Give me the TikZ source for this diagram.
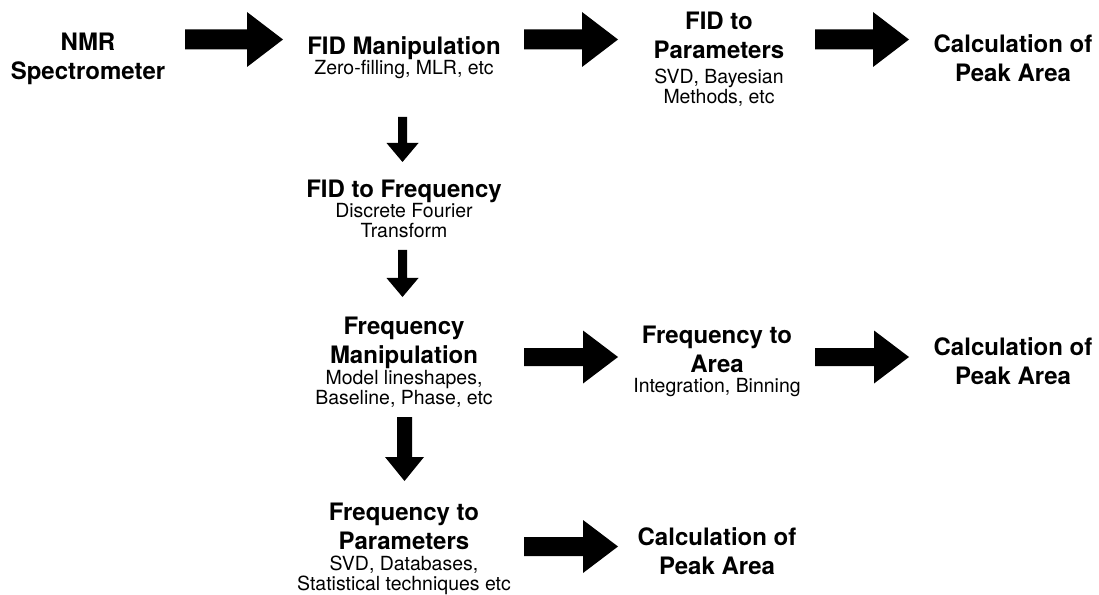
\documentclass[tikz,border=0pt]{standalone}
\usepackage{fontspec}
\setmainfont{TeX Gyre Heros}
\usetikzlibrary{calc}
\tikzset{
  ttl/.style={font=\fontsize{18}{21.75}\selectfont\bfseries, align=center, inner sep=0pt, anchor=north},
  subt/.style={font=\fontsize{14.6}{15}\selectfont, align=center, inner sep=0pt, anchor=north},
  blk/.style={fill=black, draw=none}
}
% horizontal block arrow: tail, tip, body half width, head half width, head length
\newcommand\hblk[5]{\fill[blk] ($(#1)+(0,-#3)$) -- ($(#2)+(-#5,-#3)$) -- ($(#2)+(-#5,-#4)$) -- (#2) -- ($(#2)+(-#5,#4)$) -- ($(#2)+(-#5,#3)$) -- ($(#1)+(0,#3)$) -- cycle;}
% vertical (downward) block arrow
\newcommand\vblk[5]{\fill[blk] ($(#1)+(-#3,0)$) -- ($(#2)+(-#3,-#5)$) -- ($(#2)+(-#4,-#5)$) -- (#2) -- ($(#2)+(#4,-#5)$) -- ($(#2)+(#3,-#5)$) -- ($(#1)+(#3,0)$) -- cycle;}
\begin{document}
\begin{tikzpicture}[x=0.75pt, y=-0.75pt]
\useasboundingbox (0,0) rectangle (1099,595);

% text blocks
\node[ttl] (nmr) at (88,33) {NMR\\Spectrometer};
\node[ttl] (fidm) at (404,36) {FID Manipulation};
\node[subt] (fidms) at (404,60) {Zero-filling, MLR, etc};
\node[ttl] (fidp) at (719,11.5) {FID to\\Parameters};
\node[subt] (fidps) at (719,69) {SVD, Bayesian\\Methods, etc};
\node[ttl] (calc1) at (1013,34) {Calculation of\\Peak Area};
\node[ttl] (fidf) at (404,180) {FID to Frequency};
\node[subt] (fidfs) at (404,203) {Discrete Fourier\\Transform};
\node[ttl] (frm) at (404,317) {Frequency\\Manipulation};
\node[subt] (frms) at (404,370) {Model lineshapes,\\Baseline, Phase, etc};
\node[ttl] (fra) at (717,326) {Frequency to\\Area};
\node[subt] (fras) at (717,378) {Integration, Binning};
\node[ttl] (calc2) at (1013,337) {Calculation of\\Peak Area};
\node[ttl] (frp) at (404,503) {Frequency to\\Parameters};
\node[subt] (frps) at (404,555.5) {SVD, Databases,\\Statistical techniques etc};
\node[ttl] (calc3) at (717,527) {Calculation of\\Peak Area};

% arrow end points
\coordinate (a1s) at (185,39.5);  \coordinate (a1e) at (283,39.5);
\coordinate (a2s) at (524,39.5);  \coordinate (a2e) at (618,39.5);
\coordinate (a3s) at (815,39.5);  \coordinate (a3e) at (909,39.5);
\coordinate (a4s) at (524,357); \coordinate (a4e) at (618,357);
\coordinate (a5s) at (815,357); \coordinate (a5e) at (909,357);
\coordinate (a6s) at (524,546.5); \coordinate (a6e) at (618,546.5);
\coordinate (v1s) at (402.5,117); \coordinate (v1e) at (402.5,162);
\coordinate (v2s) at (402.5,250); \coordinate (v2e) at (402.5,297);
\coordinate (v3s) at (404.5,417); \coordinate (v3e) at (404.5,481);

\hblk{a1s}{a1e}{10}{27.5}{36}
\hblk{a2s}{a2e}{10}{27.5}{36}
\hblk{a3s}{a3e}{10}{27.5}{36}
\hblk{a4s}{a4e}{9}{26.5}{35}
\hblk{a5s}{a5e}{9}{26.5}{35}
\hblk{a6s}{a6e}{9.5}{26.5}{35}
\vblk{v1s}{v1e}{4.5}{16}{19}
\vblk{v2s}{v2e}{4.5}{16}{19}
\vblk{v3s}{v3e}{7.5}{19.5}{24}
\end{tikzpicture}
\end{document}
